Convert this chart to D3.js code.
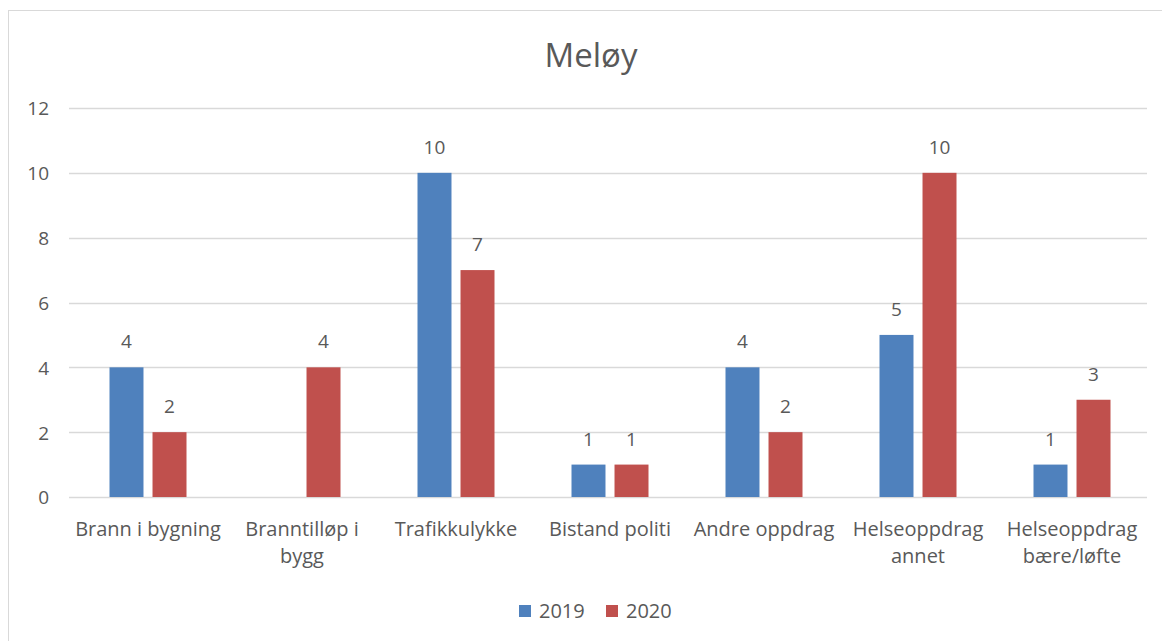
<!DOCTYPE html>
<html>
<head>
<meta charset="utf-8">
<script src="https://cdn.jsdelivr.net/npm/d3@7"></script>
<style>
  body { margin: 0; background: #fff; }
  text { font-family: "Open Sans", Arial, sans-serif; fill: #595959; }
</style>
</head>
<body>
<script>
// Chart data
var categories = ["Brann i bygning", "Branntilløp i\nbygg", "Trafikkulykke", "Bistand politi",
                  "Andre oppdrag", "Helseoppdrag\nannet", "Helseoppdrag\nbære/løfte"];
var years = ["2019", "2020"];
var values2019 = [4, null, 10, 1, 4, 5, 1];
var values2020 = [2, 4, 7, 1, 2, 10, 3];
var yTicks = [0, 2, 4, 6, 8, 10, 12];
var colors = ["#4F81BD", "#C0504D"];

var width = 1162,
    height = 641;
var margin = {left: 69, right: 15, top: 108, bottom: 144};

var svg = d3.select("body").append("svg")
    .attr("width", width)
    .attr("height", height);

// Chart border
svg.append("rect")
    .attr("x", 8.5).attr("y", 10.5)
    .attr("width", width).attr("height", height)
    .attr("fill", "none")
    .attr("stroke", "#D9D9D9");

// Scales
var x0 = d3.scaleBand()
    .domain(categories)
    .range([margin.left + 2, width - margin.right + 2]);

var x1 = d3.scaleBand()
    .domain(years)
    .range([0, x0.bandwidth()])
    .paddingInner(0.21)
    .paddingOuter(0.895);

var y = d3.scaleLinear()
    .domain([0, 12])
    .range([height - margin.bottom, margin.top]);

// Gridlines
svg.append("g")
    .selectAll("line")
    .data(yTicks)
    .enter()
    .append("line")
    .attr("x1", margin.left)
    .attr("x2", width - margin.right)
    .attr("y1", d => Math.round(y(d)) + 0.5)
    .attr("y2", d => Math.round(y(d)) + 0.5)
    .attr("stroke", "#D9D9D9")
    .attr("stroke-width", 1.5);

// Y axis labels
var yAxis = svg.append("g")
    .attr("transform", "translate(" + (margin.left - 20) + ",0)")
    .call(d3.axisLeft(y).tickValues(yTicks).tickSize(0).tickPadding(0));
yAxis.select(".domain").remove();
yAxis.selectAll("text")
    .attr("font-size", 19)
    .attr("dy", "0.36em")
    .style("font-family", '"Open Sans", Arial, sans-serif')
    .attr("fill", "#595959");

// Bars
var series = [values2019, values2020];
series.forEach(function(vals, si) {
    var g = svg.append("g");
    var data = categories.map(function(c, i) { return {cat: c, v: vals[i]}; })
        .filter(function(d) { return d.v != null; });

    g.selectAll("rect")
        .data(data)
        .enter()
        .append("rect")
        .attr("x", d => x0(d.cat) + x1(years[si]))
        .attr("y", d => y(d.v))
        .attr("width", x1.bandwidth())
        .attr("height", d => y(0) - y(d.v))
        .attr("fill", colors[si]);

    g.selectAll("text")
        .data(data)
        .enter()
        .append("text")
        .attr("x", d => x0(d.cat) + x1(years[si]) + x1.bandwidth() / 2)
        .attr("y", d => y(d.v) - 19)
        .attr("text-anchor", "middle")
        .attr("font-size", 19)
        .text(d => d.v);
});

// X axis labels (one text element per line)
var xl = svg.append("g");
categories.forEach(function(c) {
    c.split("\n").forEach(function(l, i) {
        xl.append("text")
            .attr("x", x0(c) + x0.bandwidth() / 2)
            .attr("y", 536 + i * 27)
            .attr("text-anchor", "middle")
            .attr("font-size", 20)
            .text(l);
    });
});

// Title
svg.append("text")
    .attr("x", 591)
    .attr("y", 67)
    .attr("text-anchor", "middle")
    .attr("font-size", 33)
    .text("Meløy");

// Legend
var legend = svg.append("g");
var legendX = [519, 606];
years.forEach(function(yr, i) {
    legend.append("rect")
        .attr("x", legendX[i]).attr("y", 605)
        .attr("width", 12).attr("height", 12)
        .attr("fill", colors[i]);
    legend.append("text")
        .attr("x", legendX[i] + 20)
        .attr("y", 618)
        .attr("font-size", 20)
        .text(yr);
});
</script>
</body>
</html>
